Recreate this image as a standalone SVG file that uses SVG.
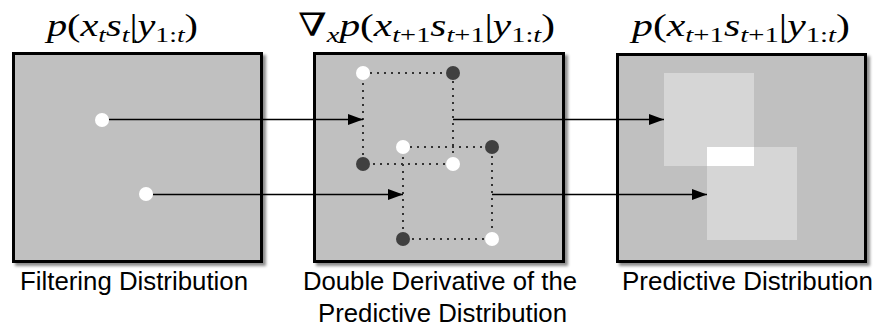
<svg xmlns="http://www.w3.org/2000/svg" width="879" height="331" viewBox="0 0 879 331">
<style>
.panel{fill:#c0c0c0;stroke:#000;stroke-width:3;filter:url(#sh)}
.math{font-family:"Liberation Serif","DejaVu Serif",serif;font-size:32px;font-style:italic;fill:#000}
.r{font-style:normal}
.sub{font-size:22px}
.lbl{font-family:"Liberation Sans",Arial,sans-serif;font-size:25px;fill:#000}
.wd{fill:#fff}
.dk{fill:#404040}
.dot{fill:none;stroke:#333;stroke-width:2;stroke-dasharray:2 5}
.arr{stroke:#000;stroke-width:1.6;fill:none}
.sq{fill:#d6d6d6}
</style>
<defs>
<filter id="sh" x="-5%" y="-5%" width="115%" height="115%">
<feDropShadow dx="3" dy="3" stdDeviation="1.5" flood-color="#000" flood-opacity="0.45"/>
</filter>
<marker id="ah" markerUnits="userSpaceOnUse" markerWidth="16" markerHeight="12" refX="15" refY="6" orient="auto">
<path d="M0,0.5 L15,6 L0,11.5 z" fill="#000"/>
</marker>
</defs>

<g id="filtering">
<rect class="panel" x="13.5" y="53.5" width="248" height="208"/>
<text class="math" x="47" y="36" textLength="151" lengthAdjust="spacingAndGlyphs">p<tspan class="r">(</tspan>x<tspan class="sub" dy="6">t</tspan><tspan dy="-6">s</tspan><tspan class="sub" dy="6">t</tspan><tspan class="r" dy="-6">|</tspan>y<tspan class="sub" dy="6"><tspan class="r">1:</tspan>t</tspan><tspan class="r" dy="-6">)</tspan></text>
<circle class="wd" cx="102" cy="120" r="7"/>
<circle class="wd" cx="146" cy="194" r="7"/>
<text class="lbl" x="20" y="290" textLength="228" lengthAdjust="spacingAndGlyphs">Filtering Distribution</text>
</g>

<g id="derivative">
<rect class="panel" x="314.5" y="53.5" width="249" height="208"/>
<text class="math" x="298" y="36" textLength="257" lengthAdjust="spacingAndGlyphs"><tspan class="r">∇</tspan><tspan class="sub" dy="6">x</tspan><tspan dy="-6">p</tspan><tspan class="r">(</tspan>x<tspan class="sub" dy="6">t<tspan class="r">+1</tspan></tspan><tspan dy="-6">s</tspan><tspan class="sub" dy="6">t<tspan class="r">+1</tspan></tspan><tspan class="r" dy="-6">|</tspan>y<tspan class="sub" dy="6"><tspan class="r">1:</tspan>t</tspan><tspan class="r" dy="-6">)</tspan></text>
<path class="dot" d="M363,73 H453 V164 H363 Z"/>
<path class="dot" d="M403,147 H492 V239 H403 Z"/>
<circle class="wd" cx="363" cy="73" r="7"/>
<circle class="dk" cx="453" cy="73" r="7"/>
<circle class="dk" cx="363" cy="164" r="7"/>
<circle class="wd" cx="453" cy="164" r="7"/>
<circle class="wd" cx="403" cy="147" r="7"/>
<circle class="dk" cx="492" cy="147" r="7"/>
<circle class="dk" cx="403" cy="239" r="7"/>
<circle class="wd" cx="492" cy="239" r="7"/>
<text class="lbl" x="303" y="290" textLength="274" lengthAdjust="spacingAndGlyphs">Double Derivative of the</text>
<text class="lbl" x="318" y="322" textLength="249" lengthAdjust="spacingAndGlyphs">Predictive Distribution</text>
</g>

<g id="predictive">
<rect class="panel" x="617.5" y="54.5" width="248" height="207"/>
<text class="math" x="632" y="36" textLength="218" lengthAdjust="spacingAndGlyphs">p<tspan class="r">(</tspan>x<tspan class="sub" dy="6">t<tspan class="r">+1</tspan></tspan><tspan dy="-6">s</tspan><tspan class="sub" dy="6">t<tspan class="r">+1</tspan></tspan><tspan class="r" dy="-6">|</tspan>y<tspan class="sub" dy="6"><tspan class="r">1:</tspan>t</tspan><tspan class="r" dy="-6">)</tspan></text>
<rect class="sq" x="664" y="73" width="90" height="93"/>
<rect class="sq" x="707" y="147" width="90" height="93"/>
<rect fill="#fff" x="707" y="147" width="47" height="19"/>
<text class="lbl" x="622" y="290" textLength="251" lengthAdjust="spacingAndGlyphs">Predictive Distribution</text>
</g>

<g id="connectors">
<line class="arr" x1="109" y1="119.5" x2="363" y2="119.5" marker-end="url(#ah)"/>
<line class="arr" x1="153" y1="194.5" x2="403" y2="194.5" marker-end="url(#ah)"/>
<line class="arr" x1="453" y1="119.5" x2="664" y2="119.5" marker-end="url(#ah)"/>
<line class="arr" x1="492" y1="194.5" x2="707" y2="194.5" marker-end="url(#ah)"/>
</g>
</svg>
